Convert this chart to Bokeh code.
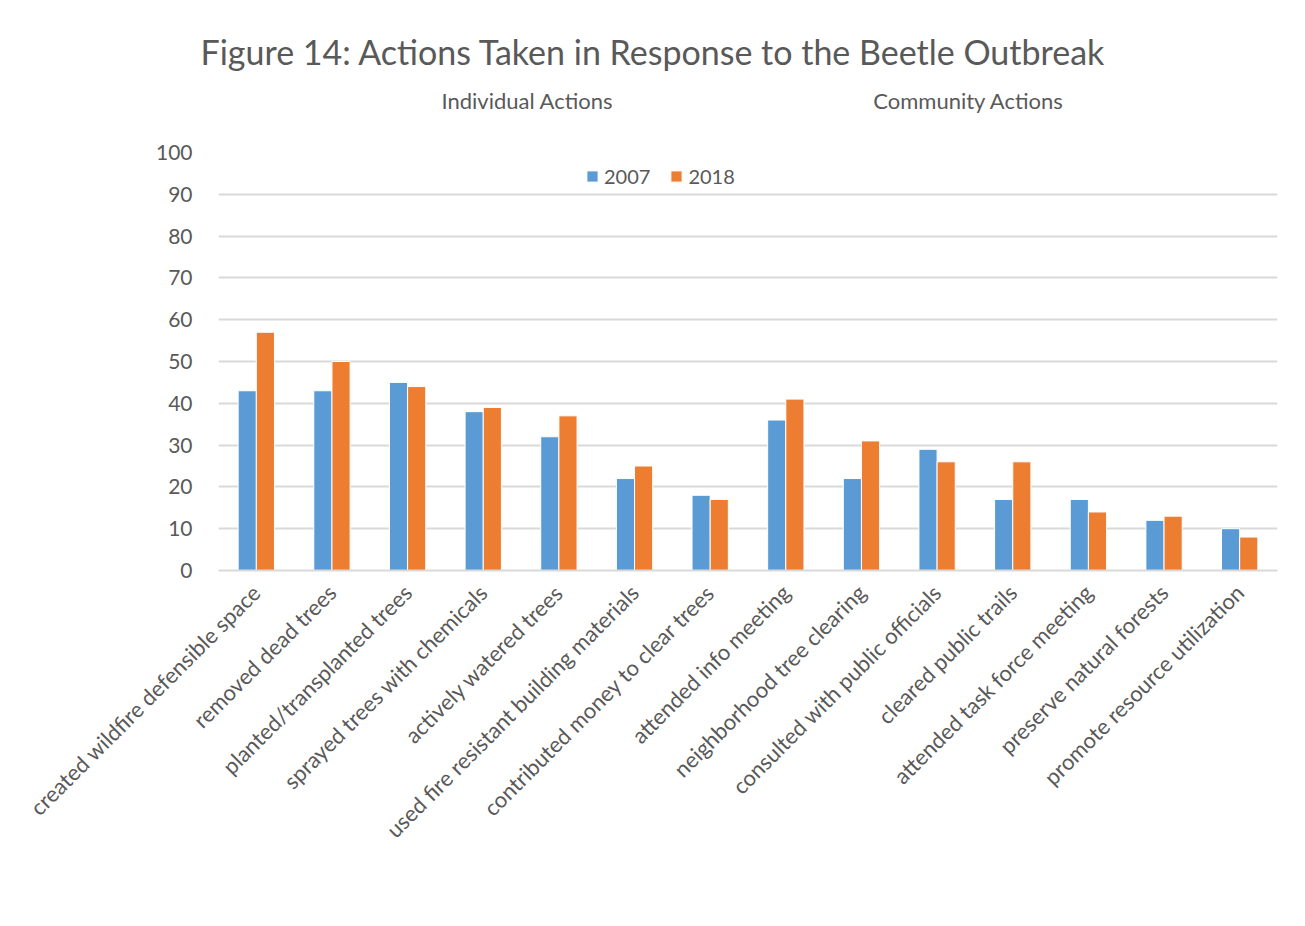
from bokeh.plotting import figure
from bokeh.models import (ColumnDataSource, FactorRange, Range1d, Legend,
                          LegendItem, CategoricalAxis, Title)
from bokeh.transform import dodge
from bokeh.embed import file_html
from bokeh.resources import INLINE

categories = [
    "created wildfire defensible space",
    "removed dead trees",
    "planted/transplanted trees",
    "sprayed trees with chemicals",
    "actively watered trees",
    "used fire resistant building materials",
    "contributed money to clear trees",
    "attended info meeting",
    "neighborhood tree clearing",
    "consulted with public officials",
    "cleared public trails",
    "attended task force meeting",
    "preserve natural forests",
    "promote resource utilization",
]
values_2007 = [43, 43, 45, 38, 32, 22, 18, 36, 22, 29, 17, 17, 12, 10]
values_2018 = [57, 50, 44, 39, 37, 25, 17, 41, 31, 26, 26, 14, 13, 8]
series_names = ["2007", "2018"]
series_colors = ["#5B9BD5", "#ED7D31"]
y_ticks = [0, 10, 20, 30, 40, 50, 60, 70, 80, 90, 100]
title_text = "Figure 14: Actions Taken in Response to the Beetle Outbreak"
group_labels = ["Individual Actions", "Community Actions"]

FONT = "Lato"
TXT = "#595959"

source = ColumnDataSource(dict(cat=categories, v2007=values_2007, v2018=values_2018))

p = figure(x_range=FactorRange(factors=categories), y_range=Range1d(0, 100),
           width=1305, height=926, output_backend="svg", toolbar_location=None,
           min_border_left=218, min_border_right=28, min_border_top=152,
           min_border_bottom=356)
p.outline_line_color = None
p.border_fill_color = "white"

p.title = Title(text=title_text, text_font=FONT, text_font_size="34px",
                text_color=TXT, text_font_style="normal", align="left",
                offset=-18, standoff=23)

r1 = p.vbar(x=dodge("cat", -0.12, range=p.x_range), top="v2007", width=0.24,
            source=source, fill_color=series_colors[0], line_color="white", line_width=1)
r2 = p.vbar(x=dodge("cat", 0.12, range=p.x_range), top="v2018", width=0.24,
            source=source, fill_color=series_colors[1], line_color="white", line_width=1)

# group labels as an upper categorical axis
p.extra_x_ranges = {"grp": FactorRange(factors=group_labels, range_padding=0.2,
                                       range_padding_units="absolute")}
gaxis = CategoricalAxis(x_range_name="grp",
                        axis_line_color=None, major_tick_line_color=None,
                        minor_tick_line_color=None, major_label_standoff=33,
                        major_label_text_font=FONT, major_label_text_font_size="22px",
                        major_label_text_color=TXT)
p.add_layout(gaxis, "above")

p.yaxis.ticker = y_ticks
p.yaxis.axis_line_color = None
p.yaxis.major_tick_line_color = None
p.yaxis.minor_tick_line_color = None
p.yaxis.major_label_text_font = FONT
p.yaxis.major_label_text_font_size = "21px"
p.yaxis.major_label_text_color = TXT
p.yaxis.major_label_standoff = 20

xa = p.below[0]
xa.axis_line_color = "#d9d9d9"
xa.axis_line_width = 2
xa.major_tick_line_color = None
xa.minor_tick_line_color = None
xa.major_label_orientation = 0.785398
xa.major_label_text_font = FONT
xa.major_label_text_font_size = "22px"
xa.major_label_text_color = TXT
xa.major_label_standoff = 12

p.xgrid.grid_line_color = None
p.ygrid.grid_line_color = "#d9d9d9"
p.ygrid.grid_line_width = 2

legend = Legend(items=[LegendItem(label=series_names[0], renderers=[r1]),
                       LegendItem(label=series_names[1], renderers=[r2])],
                location=(367, 382), orientation="horizontal",
                glyph_width=14, glyph_height=14, label_standoff=5, spacing=19,
                padding=0, margin=0, border_line_color=None,
                background_fill_alpha=0, label_text_font=FONT,
                label_text_font_size="20px", label_text_color=TXT)
p.add_layout(legend, "center")

open("out.html", "w").write(file_html(p, INLINE))
